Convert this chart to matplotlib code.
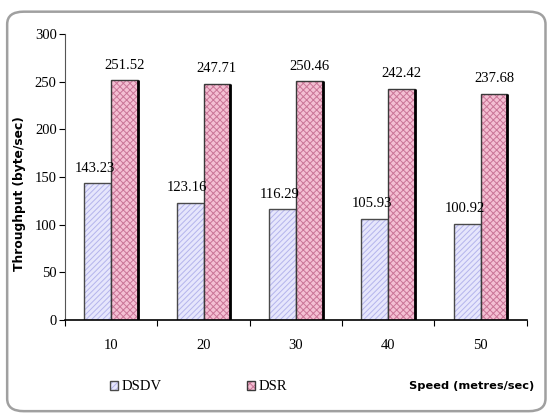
import numpy as np
import matplotlib.pyplot as plt
from matplotlib.patches import FancyBboxPatch

speeds = ["10", "20", "30", "40", "50"]
dsdv = [143.23, 123.16, 116.29, 105.93, 100.92]
dsr = [251.52, 247.71, 250.46, 242.42, 237.68]

serif = "Liberation Serif"
plt.rcParams["hatch.linewidth"] = 0.7


def tint_hatch(bars, color):
    for r in bars:
        if hasattr(r, "set_hatchcolor"):
            r.set_hatchcolor(color)
        else:
            r._hatch_color = plt.matplotlib.colors.to_rgba(color)


fig = plt.figure(figsize=(5.51, 4.17), dpi=100)
fig.patch.set_facecolor("white")

# rounded frame around the whole chart
frame = FancyBboxPatch((0.013, 0.014), 0.977, 0.958,
                       boxstyle="round,pad=0,rounding_size=0.03",
                       transform=fig.transFigure, facecolor="none",
                       edgecolor="#a0a0a0", linewidth=1.8)
fig.patches.append(frame)

ax = fig.add_axes([0.118, 0.233, 0.838, 0.685])
x = np.arange(len(speeds)) + 0.5
w = 0.29

b1 = ax.bar(x - w / 2, dsdv, w, color="#e6e6fc", edgecolor="#4a4a4a",
            linewidth=1.0, hatch="//////", label="DSDV")
tint_hatch(b1, "#b4b4ec")
b2 = ax.bar(x + w / 2, dsr, w, color="#f4bfd3", edgecolor="#3a3a3a",
            linewidth=1.0, hatch="xxxxx", label="DSR")
tint_hatch(b2, "#c97597")
for r in b2:
    # darker shadow edge on the right side
    ax.plot([r.get_x() + r.get_width()] * 2, [0, r.get_height()],
            color="black", lw=2.0, solid_capstyle="butt")

for xi, v in zip(x - w / 2, dsdv):
    ax.text(xi - 0.03, v + 9, f"{v:.2f}", ha="center", va="bottom",
            family=serif, fontsize=10.5)
for xi, v in zip(x + w / 2, dsr):
    ax.text(xi, v + 9, f"{v:.2f}", ha="center", va="bottom",
            family=serif, fontsize=10.5)

ax.set_xlim(0, 5)
ax.set_ylim(0, 300)
ax.set_yticks(range(0, 301, 50))
ax.set_xticks(range(0, 6))
ax.set_xticklabels([])
ax.set_xticks(x, minor=True)
ax.set_xticklabels(speeds, minor=True, family=serif, fontsize=10.5)
ax.tick_params(axis="x", which="minor", length=0, pad=14)
ax.tick_params(axis="x", which="major", length=4, width=0.8, direction="out")
ax.tick_params(axis="y", length=4, width=0.8, pad=2)
for lab in ax.get_yticklabels():
    lab.set_family(serif)
    lab.set_fontsize(10.5)

for s in ["top", "right"]:
    ax.spines[s].set_visible(False)
ax.spines["left"].set_color("#555555")
ax.spines["bottom"].set_linewidth(1.2)

fig.text(0.036, 0.535, "Throughput (byte/sec)", rotation=90, ha="center",
         va="center", fontsize=8.8, fontweight="bold", family="DejaVu Sans")
fig.text(0.742, 0.074, "Speed (metres/sec)", fontsize=8.2, fontweight="bold",
         family="DejaVu Sans", va="center")

# one legend entry per series, spaced apart under the axis
for handle, name, x0 in [(b1, "DSDV", 0.2), (b2, "DSR", 0.449)]:
    fig.legend(handles=[handle], labels=[name], loc="center left",
               bbox_to_anchor=(x0, 0.072), frameon=False,
               prop={"family": serif, "size": 10.5},
               handlelength=0.55, handleheight=0.55, handletextpad=0.2,
               borderpad=0, borderaxespad=0)

fig.savefig("out.png", dpi=100)
